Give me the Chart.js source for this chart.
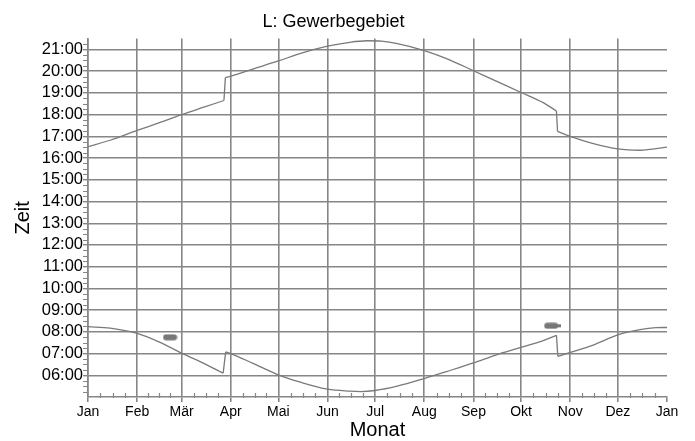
<!DOCTYPE html>
<html>
<head>
<meta charset="utf-8">
<script src="https://cdn.jsdelivr.net/npm/chart.js@4/dist/chart.umd.min.js"></script>
<style>
  html, body { margin: 0; padding: 0; background: #ffffff; }
  #c { display: block; }
</style>
</head>
<body>
<canvas id="c" width="695" height="441"></canvas>
<script>
// ---- data (days since 1 Jan, hours as decimal) ----
const monthTickDays = [0, 31, 59, 90, 120, 151, 181, 212, 243, 273, 304, 334, 365];
const monthLabels = ['Jan', 'Feb', 'Mär', 'Apr', 'Mai', 'Jun', 'Jul', 'Aug', 'Sep', 'Okt', 'Nov', 'Dez', 'Jan'];
const hourTicks = [6, 7, 8, 9, 10, 11, 12, 13, 14, 15, 16, 17, 18, 19, 20, 21];

const sunsetDays  = [0, 14, 31, 45, 59, 73, 85.7, 86.6, 90, 104, 120, 134, 151, 165, 176, 185, 195, 212, 226, 243, 257, 273, 287, 295.3, 296.0, 304, 318, 334, 348, 365];
const sunsetHours = [16.53, 16.82, 17.27, 17.63, 18.00, 18.34, 18.65, 19.71, 19.77, 20.10, 20.47, 20.82, 21.15, 21.33, 21.40, 21.38, 21.27, 20.95, 20.58, 20.02, 19.55, 19.02, 18.55, 18.17, 17.23, 17.00, 16.68, 16.42, 16.36, 16.50];

const sunriseDays  = [0, 14, 31, 45, 59, 73, 85.2, 86.8, 90, 104, 120, 134, 151, 165, 172, 181, 195, 212, 226, 243, 257, 273, 287, 295.3, 296.2, 304, 318, 334, 348, 358, 365];
const sunriseHours = [8.24, 8.17, 7.93, 7.53, 7.02, 6.55, 6.10, 7.08, 7.00, 6.55, 6.02, 5.68, 5.36, 5.27, 5.25, 5.30, 5.50, 5.85, 6.17, 6.57, 6.93, 7.28, 7.60, 7.84, 6.87, 7.05, 7.38, 7.86, 8.10, 8.19, 8.20];

// indices of the last point before each clock change (spring, autumn)
const sunsetJumps  = [6, 23];
const sunriseJumps = [6, 23];

const markerDays  = [51.7, 292.6];
const markerHours = [7.75, 8.28];

// ---- styles ----
const GRID = '#868686';
const LINE = '#7a7a7a';
const FONT = 'Liberation Sans, Arial, sans-serif';

function makeSprite(withTail) {
  const c = document.createElement('canvas');
  c.width = withTail ? 17 : 15; c.height = 7;
  const g = c.getContext('2d');
  g.fillStyle = '#777777';
  g.beginPath();
  g.roundRect(0.5, 0.5, 14, 6, 3);
  g.fill();
  if (withTail) { g.fillRect(13, 2, 4, 3); }
  return c;
}
const sprites = [makeSprite(false), makeSprite(true)];

const pairs = (xs, ys) => xs.map((x, i) => ({ x: x, y: ys[i] }));

// split a series into smooth pieces and straight clock-change pieces
function pieces(xs, ys, jumps) {
  const pts = pairs(xs, ys);
  const out = [];
  let start = 0;
  jumps.forEach(j => {
    out.push(pts.slice(start, j + 1));
    out.push(pts.slice(j, j + 2));
    start = j + 1;
  });
  out.push(pts.slice(start));
  return out.map(d => ({
    data: d, borderColor: LINE, borderWidth: 1.3, pointRadius: 0,
    cubicInterpolationMode: 'monotone', fill: false
  }));
}

const minorTicks = {
  id: 'minorTicks',
  afterDraw(chart) {
    const { ctx, scales: { x, y }, chartArea: a } = chart;
    ctx.save();
    ctx.strokeStyle = GRID;
    ctx.lineWidth = 1.2;
    ctx.beginPath();
    for (let i = 0; i < monthTickDays.length - 1; i++) {
      const d0 = monthTickDays[i], d1 = monthTickDays[i + 1];
      for (let k = 1; k < 4; k++) {
        const px = Math.round(x.getPixelForValue(d0 + (d1 - d0) * k / 4)) + 0.5;
        ctx.moveTo(px, a.bottom - 4);
        ctx.lineTo(px, a.bottom + 1);
      }
    }
    for (let h = 5; h < 21.5; h += 0.25) {
      if (Math.abs(h - Math.round(h)) < 1e-6) continue;
      const py = Math.round(y.getPixelForValue(h)) + 0.5;
      ctx.moveTo(a.left - 5, py);
      ctx.lineTo(a.left, py);
    }
    ctx.stroke();
    ctx.restore();
  }
};

new Chart(document.getElementById('c'), {
  type: 'line',
  data: {
    datasets: [
      ...pieces(sunsetDays, sunsetHours, sunsetJumps),
      ...pieces(sunriseDays, sunriseHours, sunriseJumps),
      { type: 'scatter', data: pairs(markerDays, markerHours), pointStyle: sprites, pointRadius: 7, showLine: false }
    ]
  },
  options: {
    responsive: false,
    devicePixelRatio: 1,
    animation: false,
    layout: { padding: { left: 0, right: 28, top: 0, bottom: 0 } },
    plugins: {
      legend: { display: false },
      tooltip: { enabled: false },
      title: {
        display: true,
        text: 'L: Gewerbegebiet',
        color: '#000000',
        font: { family: FONT, size: 18, weight: 'normal' },
        padding: { top: 11, bottom: 6 }
      }
    },
    scales: {
      x: {
        type: 'linear',
        position: 'bottom',
        min: 0,
        max: 365,
        afterBuildTicks: (s) => { s.ticks = monthTickDays.map(v => ({ value: v })); },
        afterFit: (s) => { s.height = 44; },
        ticks: {
          autoSkip: false,
          maxRotation: 0,
          padding: 2,
          color: '#000000',
          font: { family: FONT, size: 14 },
          callback: (v, i) => monthLabels[i]
        },
        grid: {
          color: (c) => (c.tick && c.tick.value === 365) ? 'rgba(0,0,0,0)' : GRID,
          tickColor: GRID,
          lineWidth: 1.6,
          tickLength: 5
        },
        border: { display: true, color: GRID, width: 1.6 },
        title: {
          display: true,
          text: 'Monat',
          color: '#000000',
          font: { family: FONT, size: 20, lineHeight: 1 },
          padding: { top: 0, bottom: 0.5 }
        }
      },
      y: {
        type: 'linear',
        position: 'left',
        min: 5,
        max: 21.5,
        afterBuildTicks: (s) => { s.ticks = hourTicks.map(v => ({ value: v })); },
        afterFit: (s) => { s.width = 88; },
        ticks: {
          padding: 0,
          color: '#000000',
          font: { family: FONT, size: 16.5 },
          callback: (v) => (v < 10 ? '0' : '') + v + ':00'
        },
        grid: {
          color: GRID,
          tickColor: GRID,
          lineWidth: 1.4,
          tickLength: 5
        },
        border: { display: true, color: GRID, width: 1.6 },
        title: {
          display: true,
          text: 'Zeit',
          color: '#000000',
          font: { family: FONT, size: 20, lineHeight: 1 },
          padding: { top: 13, bottom: 0 }
        }
      }
    }
  },
  plugins: [minorTicks]
});
</script>
</body>
</html>
